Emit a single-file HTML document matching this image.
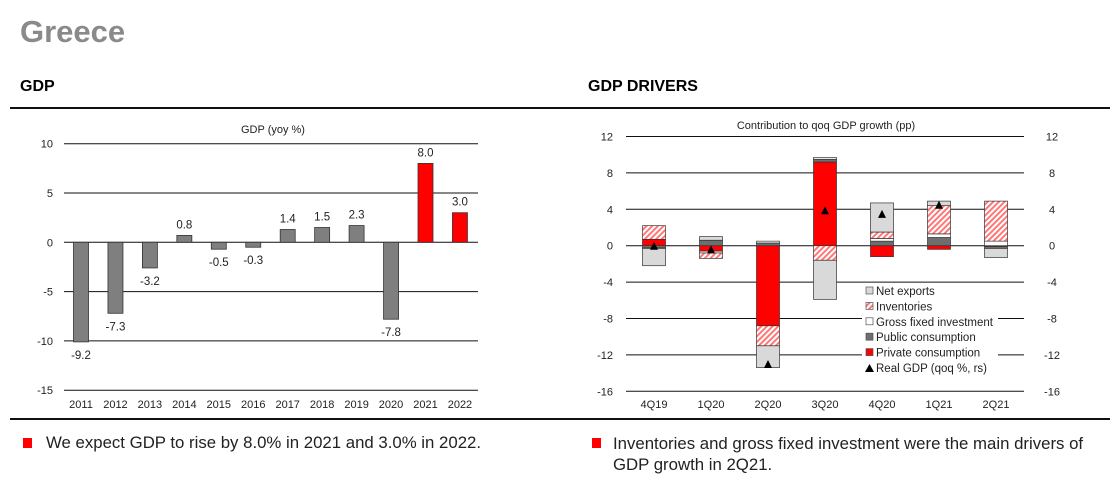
<!DOCTYPE html>
<html><head><meta charset="utf-8"><style>
body{margin:0;width:1120px;height:486px;background:#fff;font-family:"Liberation Sans",Arial,sans-serif;overflow:hidden;position:relative}
.abs{position:absolute}
</style></head><body>
<div class="abs" style="left:20px;top:14px;font-size:31px;font-weight:bold;color:#8a8a8a">Greece</div>
<div class="abs" style="left:20px;top:78px;font-size:16px;font-weight:bold">GDP</div>
<div class="abs" style="left:588px;top:78px;font-size:16px;font-weight:bold">GDP DRIVERS</div>
<div class="abs" style="left:10px;top:107px;width:1100px;height:2px;background:#111"></div>
<div class="abs" style="left:10px;top:418px;width:1100px;height:2px;background:#111"></div>
<div class="abs" style="left:23px;top:438px;width:9px;height:10px;background:#f00"></div>
<div class="abs" style="left:46px;top:433px;font-size:16.8px;color:#222">We expect GDP to rise by 8.0% in 2021 and 3.0% in 2022.</div>
<div class="abs" style="left:592px;top:438px;width:9px;height:10px;background:#f00"></div>
<div class="abs" style="left:613px;top:433px;width:485px;font-size:16.8px;line-height:21px;color:#222">Inventories and gross fixed investment were the main drivers of GDP growth in 2Q21.</div>
<svg class="abs" style="left:0;top:0" width="1120" height="486" id="svg">
<defs><pattern id="hatch" width="4" height="4" patternUnits="userSpaceOnUse" patternTransform="rotate(45)"><rect width="4" height="4" fill="#fff"/><rect width="2" height="4" fill="#f77"/></pattern></defs>
</svg>
<script>
const years=["2011","2012","2013","2014","2015","2016","2017","2018","2019","2020","2021","2022"];
const gdpBars=[-10.1,-7.2,-2.6,0.7,-0.7,-0.5,1.3,1.5,1.7,-7.8,8.0,3.0];
const gdpLabels=["-9.2","-7.3","-3.2","0.8","-0.5","-0.3","1.4","1.5","2.3","-7.8","8.0","3.0"];
const gdpTicks=[10,5,0,-5,-10,-15];
const quarters=["4Q19","1Q20","2Q20","3Q20","4Q20","1Q21","2Q21"];
const privCons=[0.7,-0.6,-8.8,9.2,-1.2,-0.4,-0.1];
const pubCons=[-0.2,0.6,0.3,0.3,0.5,0.9,-0.2];
const gfi=[-0.1,-0.2,0.2,0.2,0.3,0.4,0.5];
const inventories=[1.5,-0.6,-2.2,-1.6,0.7,3.1,4.4];
const netExports=[-1.9,0.4,-2.4,-4.3,3.2,0.5,-1.0];
const realGdp=[0.0,-0.4,-13.0,3.9,3.5,4.5,null];
const drvTicks=[12,8,4,0,-4,-8,-12,-16];
const NS="http://www.w3.org/2000/svg";
const svg=document.getElementById('svg');
function mk(t,a,txt){const e=document.createElementNS(NS,t);for(const k in a)e.setAttribute(k,a[k]);if(txt!=null)e.textContent=txt;svg.appendChild(e);return e;}
// left chart
const ly=v=>242.3-v*9.86;const lx=i=>81+i*34.45;
gdpTicks.forEach(t=>{
 const l=mk('line',{x1:64,x2:478,y1:ly(t),y2:ly(t),stroke:'#111','stroke-width':1});
 
 
 const tx=mk('text',{x:53,y:ly(t)+4,'text-anchor':'end','font-size':11,fill:'#222'},String(t));
 
 
});
const lt=mk('text',{x:273,y:133,'text-anchor':'middle','font-size':11,fill:'#222'},'GDP (yoy %)');


years.forEach((y,i)=>{
 const v=gdpBars[i];const x=lx(i);
 const r=mk('rect',{x:x-7.5,y:Math.min(ly(0),ly(v)),width:15,height:Math.abs(ly(v)-ly(0)),fill:i>=10?'#f00':'#7f7f7f',stroke:'#333','stroke-width':0.8});
 
 
 const ty=v>=0?ly(v)-7:ly(v)+17;
 const w=gdpLabels[i].length*6.5+4;
 const bg=mk('rect',{x:x-w/2,y:ty-10,width:w,height:13,fill:'#fff'});
 
 
 const lb=mk('text',{x:x,y:ty,'text-anchor':'middle','font-size':11.5,fill:'#222'},gdpLabels[i]);
 
 
 const xl=mk('text',{x:x,y:408,'text-anchor':'middle','font-size':11,fill:'#222'},y);
 
 
});
// right chart
const ry=v=>245.7-v*9.1;const rx=i=>654+i*57;
drvTicks.forEach(t=>{
 const l=mk('line',{x1:626,x2:1024,y1:ry(t),y2:ry(t),stroke:'#111','stroke-width':1});
 
 
 const a=mk('text',{x:613,y:ry(t)+4,'text-anchor':'end','font-size':11,fill:'#222'},String(t));
 
 
 const b=mk('text',{x:1052,y:ry(t)+4,'text-anchor':'middle','font-size':11,fill:'#222'},String(t));
 
 
});
const rt=mk('text',{x:826,y:129,'text-anchor':'middle','font-size':11,fill:'#222'},'Contribution to qoq GDP growth (pp)');


const series=[[privCons,'#f00','private-consumption'],[pubCons,'#6e6e6e','public-consumption'],[gfi,'#fff','gross-fixed-investment'],[inventories,'url(#hatch)','inventories'],[netExports,'#d9d9d9','net-exports']];
quarters.forEach((q,i)=>{
 let pos=0,neg=0;const x=rx(i);
 series.forEach(([arr,fill,nm])=>{
  const v=arr[i];let y0,y1;
  if(v>=0){y0=pos;y1=pos+v;pos=y1;}else{y0=neg;y1=neg+v;neg=y1;}
  const r=mk('rect',{x:x-11.5,y:Math.min(ry(y0),ry(y1)),width:23,height:Math.abs(ry(y1)-ry(y0)),fill:fill,stroke:'#333','stroke-width':0.7});
  
  
 });
 if(realGdp[i]!=null){const yy=ry(realGdp[i]);
  const p=mk('polygon',{points:`${x-4},${yy+4} ${x+4},${yy+4} ${x},${yy-4}`,fill:'#000'});
  
  }
 const xl=mk('text',{x:x,y:408,'text-anchor':'middle','font-size':11,fill:'#222'},q);
 
 
});
// legend
const lbg=mk('rect',{x:862,y:283,width:136,height:90,fill:'#fff'});


const legItems=[['Net exports','#d9d9d9'],['Inventories','url(#hatch)'],['Gross fixed investment','#fff'],['Public consumption','#6e6e6e'],['Private consumption','#f00'],['Real GDP (qoq %, rs)',null]];
legItems.forEach(([t,f],k)=>{
 const y=291+k*15.4;
 if(f){const s=mk('rect',{x:866,y:y-4,width:7,height:7,fill:f,stroke:'#555','stroke-width':0.7});
  
  }
 else{const s=mk('polygon',{points:`865,${y+4} 874,${y+4} 869.5,${y-4}`,fill:'#000'});
  
  }
 const tx=mk('text',{x:876,y:y+4,'font-size':11.5,fill:'#222'},t);
 
 
});
</script>
</body></html>
